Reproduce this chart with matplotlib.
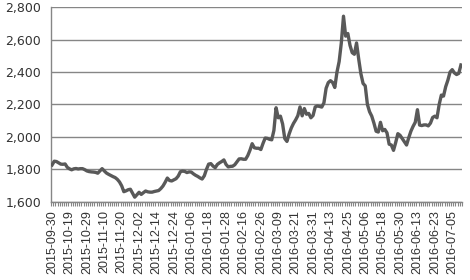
import pandas as pd
from matplotlib import pyplot as plt
from matplotlib.ticker import FuncFormatter, FixedLocator

# Chinese market holidays in the period (weekdays only)
holidays = ['2015-10-01', '2015-10-02', '2015-10-05', '2015-10-06', '2015-10-07',
            '2016-01-01', '2016-02-08', '2016-02-09', '2016-02-10', '2016-02-11',
            '2016-02-12', '2016-04-04', '2016-05-02', '2016-06-09', '2016-06-10']

values = [1827, 1850, 1848, 1840, 1832, 1831, 1833, 1812, 1803, 1797,
          1803, 1805, 1802, 1804, 1804, 1798, 1790, 1786, 1784, 1783,
          1781, 1776, 1790, 1804, 1790, 1777, 1769, 1762, 1755, 1749,
          1738, 1722, 1698, 1662, 1667, 1674, 1677, 1652, 1628, 1643,
          1658, 1645, 1656, 1666, 1661, 1659, 1659, 1663, 1666, 1669,
          1681, 1697, 1720, 1746, 1731, 1728, 1735, 1742, 1758, 1785,
          1789, 1787, 1780, 1784, 1783, 1772, 1763, 1756, 1747, 1740,
          1760, 1800, 1832, 1835, 1820, 1810, 1830, 1840, 1848, 1858,
          1830, 1815, 1818, 1819, 1828, 1846, 1864, 1865, 1862, 1862,
          1885, 1918, 1958, 1933, 1930, 1930, 1922, 1960, 1993, 1991,
          1985, 1982, 2040, 2180, 2118, 2128, 2080, 1990, 1972, 2018,
          2055, 2083, 2105, 2131, 2185, 2130, 2175, 2140, 2145, 2118,
          2132, 2185, 2191, 2188, 2184, 2210, 2300, 2335, 2347, 2336,
          2305, 2400, 2465, 2580, 2745, 2622, 2638, 2565, 2520, 2510,
          2580, 2480, 2390, 2330, 2315, 2200, 2155, 2128, 2085, 2035,
          2030, 2090, 2038, 2046, 2025, 1955, 1950, 1917, 1965, 2020,
          2010, 1990, 1970, 1950, 1995, 2035, 2065, 2090, 2168, 2073,
          2070, 2074, 2074, 2068, 2085, 2120, 2128, 2118, 2200, 2258,
          2252, 2310, 2350, 2400, 2415, 2395, 2385, 2392, 2444]

dates = pd.bdate_range('2015-09-30', periods=len(values), freq='C', holidays=holidays)
labels = [d.strftime('%Y-%m-%d') for d in dates]

fig = plt.figure(figsize=(4.7, 2.8), dpi=100)
ax = fig.add_axes([0.1085, 0.2796, 0.8745, 0.6944])

x = list(range(len(values)))
ax.plot(x, values, color='#595959', linewidth=2.4, solid_joinstyle='round', zorder=3)

ax.set_xlim(-0.5, len(values) - 0.5)
ax.set_ylim(1600, 2800)
ax.set_yticks(range(1600, 2801, 200))
ax.yaxis.set_major_formatter(FuncFormatter(lambda v, p: f'{int(v):,}'))
ax.yaxis.grid(True, color='#868686', linewidth=1.0)
ax.set_axisbelow(True)

# labels every 8 trading days, tick marks at every category boundary
ax.set_xticks(x[::8])
ax.set_xticklabels(labels[::8], rotation=90, fontsize=9, family='Liberation Sans', color='#333333')
ax.xaxis.set_minor_locator(FixedLocator([i - 0.5 for i in range(len(values) + 1)]))
ax.tick_params(axis='x', which='major', length=0, pad=6)
ax.tick_params(axis='x', which='minor', length=3, color='#868686', width=0.8)
ax.tick_params(axis='y', length=0, pad=7, labelsize=9, labelcolor='#333333')

for s in ['top', 'right']:
    ax.spines[s].set_visible(False)
for s in ['left', 'bottom']:
    ax.spines[s].set_color('#868686')
    ax.spines[s].set_linewidth(1.0)

fig.savefig('out.png', dpi=100)
